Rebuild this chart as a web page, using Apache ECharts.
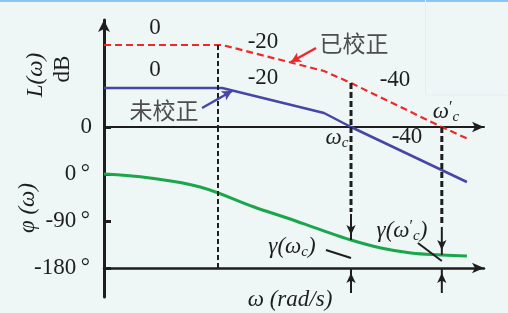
<!DOCTYPE html>
<html><head><meta charset="utf-8">
<script src="https://cdn.jsdelivr.net/npm/echarts@6/dist/echarts.min.js"></script>
<style>html,body{margin:0;padding:0;background:#eef7f6;}#c{width:508px;height:313px;}</style>
</head><body><div id="c"></div><script>
// ---- data (x: relative log-frequency 0..100, magnitude in dB-like units, phase in degrees)
const corrX = [0, 31.1, 57.9, 65.0, 88.9, 95.8];
const corrY = [82, 82, 56, 44, 0, -12];
const uncX = [0, 31.1, 57.9, 65.0, 95.5];
const uncY = [39, 39, 14, 0, -55];
const phaseX = [0, 12.1, 25.3, 39.5, 48.2, 57.1, 65.0, 72.9, 80.8, 88.9, 95.5];
const phaseY = [0, -7.7, -24.9, -63.2, -84.3, -107, -126.4, -141.7, -151.3, -155, -157];
const wBreak = 30.0, wc = 65.0, wcP = 88.9;
const phaseTicks = [0, -90, -180];
const slopeLabels = ['0', '0', '-20', '-20', '-40', '-40'];

const zip = (a, b) => a.map((v, i) => [v, b[i]]);
const serif = '"Liberation Serif","Times New Roman",serif';
const cjk = '"Noto Sans CJK SC",sans-serif';
const K = '#1e1e1e', RED = '#ec2a2c', BLUE = '#4646a6', GREEN = '#1ba64b';

function seg(g, a, b, color, width, type, arrow) {
  const end = arrow ? {value: b, symbol: 'arrow', symbolSize: [7, 10],
    symbolRotate: arrow === 'down' ? 180 : 0, symbolOffset: [0, arrow === 'down' ? -5 : 5]} : {value: b};
  return {type: 'line', xAxisIndex: g, yAxisIndex: g, clip: false, silent: true, animation: false,
    symbol: 'none', lineStyle: {color, width, type}, itemStyle: {color}, data: [{value: a}, end]};
}
function pointer(color, a, b) {
  return {type: 'line', xAxisIndex: 0, yAxisIndex: 0, data: [], silent: true, animation: false,
    markLine: {silent: true, animation: false, symbol: ['none', 'arrow'], symbolSize: [8, 10],
      label: {show: false}, lineStyle: {color, width: 2.5, type: 'solid'},
      data: [[{coord: a}, {coord: b}]]}};
}
function txt(text, x, y, o) {
  return {type: 'text', silent: true, style: Object.assign({text, x, y, align: 'center', verticalAlign: 'middle',
    font: '23px ' + serif, fill: K}, o || {})};
}
const wRich = (color) => ({
  w: {fontFamily: serif, fontStyle: 'italic', fontSize: 23, color},
  p: {fontFamily: serif, fontSize: 16, color, verticalAlign: 'top', padding: [0, 0, 8, 0]},
  s: {fontFamily: serif, fontStyle: 'italic', fontSize: 15, color, padding: [10, 0, 0, 0]}
});

const chart = echarts.init(document.getElementById('c'));
chart.setOption({
  backgroundColor: '#eef7f6',
  animation: false,
  grid: [{left: 104, right: 24, top: 20, bottom: 16}, {left: 104, right: 24, top: 127, bottom: 45}],
  xAxis: [
    {gridIndex: 0, type: 'value', min: 0, max: 100,
      axisLine: {onZero: true, symbol: ['none', 'arrow'], symbolSize: [8, 12], lineStyle: {color: K, width: 2}},
      axisTick: {show: false}, axisLabel: {show: false}, splitLine: {show: false}},
    {gridIndex: 1, type: 'value', min: 0, max: 100,
      axisLine: {onZero: false, symbol: ['none', 'arrow'], symbolSize: [8, 12], lineStyle: {color: K, width: 2.5}},
      axisTick: {show: false}, axisLabel: {show: false}, splitLine: {show: false}}
  ],
  yAxis: [
    {gridIndex: 0, type: 'value', min: -170, max: 107, interval: 10,
      axisLine: {show: true, onZero: true, symbol: ['none', 'arrow'], symbolSize: [9, 12], lineStyle: {color: K, width: 3}},
      axisTick: {show: false}, splitLine: {show: false},
      axisLabel: {formatter: v => v === 0 ? '0' : '', fontFamily: serif, fontSize: 23, color: K, margin: 12}},
    {gridIndex: 1, type: 'value', min: -180, max: 90, interval: 90,
      axisLine: {show: false}, splitLine: {show: false},
      axisTick: {show: true, inside: true, length: 7, lineStyle: {color: K, width: 3}},
      axisLabel: {formatter: v => phaseTicks.includes(v) ? v + '\u2009°' : '', fontFamily: serif, fontSize: 23, color: K, margin: 14}}
  ],
  series: [
    {type: 'line', xAxisIndex: 0, yAxisIndex: 0, data: zip(corrX, corrY), symbol: 'none', silent: true,
      lineStyle: {color: RED, width: 2.2, type: [7, 4]}},
    {type: 'line', xAxisIndex: 0, yAxisIndex: 0, data: zip(uncX, uncY), symbol: 'none', silent: true,
      lineStyle: {color: BLUE, width: 2.5}},
    {type: 'line', xAxisIndex: 1, yAxisIndex: 1, data: zip(phaseX, phaseY), symbol: 'none', silent: true, smooth: 0.4,
      lineStyle: {color: GREEN, width: 3}},
    seg(0, [wBreak, 82], [wBreak, 0], K, 2, [5, 3]),
    seg(1, [wBreak, 90], [wBreak, -180], K, 2, [5, 3]),
    seg(0, [wc, 44], [wc, 0], K, 3, [6, 3]),
    seg(1, [wc, 90], [wc, -72.8], K, 3, [6, 3]),
    seg(1, [wcP, 90], [wcP, -97.6], K, 3, [6, 3]),
    seg(1, [wc, -76.6], [wc, -126.4], K, 2, 'solid', 'down'),
    seg(1, [wc, -227.9], [wc, -180], K, 2, 'solid', 'up'),
    seg(1, [wcP, -101.4], [wcP, -155], K, 2, 'solid', 'down'),
    seg(1, [wcP, -227.9], [wcP, -180], K, 2, 'solid', 'up'),
    seg(1, [58.4, -145.5], [wc, -160.8], K, 2, 'solid'),
    seg(1, [82.6, -132.1], [wcP, -166.6], K, 2, 'solid'),
    pointer(RED, [55.8, 79], [49.2, 65]),
    pointer(BLUE, [25.8, 19], [33.7, 36])
  ],
  graphic: [
    {type: 'rect', silent: true, shape: {x: 0, y: 0, width: 508, height: 2}, style: {fill: '#8cc4f2'}},
    {type: 'rect', silent: true, shape: {x: 425.5, y: -1, width: 90, height: 96}, style: {fill: 'none', stroke: '#e4eef6'}},
    txt(slopeLabels[0], 155, 28), txt(slopeLabels[1], 155, 70),
    txt(slopeLabels[2], 263, 42), txt(slopeLabels[3], 263, 78),
    txt(slopeLabels[4], 395, 80), txt(slopeLabels[5], 407, 137),
    txt('已校正', 354, 43, {font: '23px ' + cjk, fill: '#4d4d4d'}),
    txt('未校正', 164, 110, {font: '23px ' + cjk, fill: '#4d4d4d'}),
    txt('{w|ω}{s|c}', 337, 138, {rich: wRich('#333')}),
    txt('{w|ω}{p|′}{s|c}', 446, 112, {rich: wRich('#333')}),
    txt('{w|γ(ω}{s|c}{w|)}', 292, 247, {rich: wRich('#333')}),
    txt('{w|γ(ω}{p|′}{s|c}{w|)}', 402, 231, {rich: wRich(RED)}),
    Object.assign(txt('L(ω)', 0, 0, {font: 'italic 23px ' + serif}), {x: 36, y: 75, rotation: Math.PI / 2}),
    Object.assign(txt('dB', 0, 0), {x: 63, y: 69, rotation: Math.PI / 2}),
    Object.assign(txt('φ (ω)', 0, 0, {font: 'italic 23px ' + serif}), {x: 28, y: 208, rotation: Math.PI / 2}),
    txt('ω (rad/s)', 290, 300, {font: 'italic 23px ' + serif})
  ]
});
</script></body></html>
